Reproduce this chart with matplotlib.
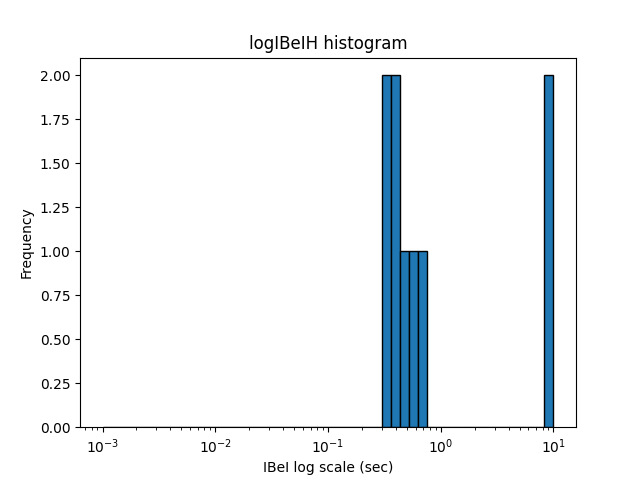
import numpy as np
import matplotlib
matplotlib.use('Agg')
import matplotlib.pyplot as plt

ibei = [0.31, 0.32, 0.38, 0.40, 0.45, 0.55, 0.65, 9.0, 9.8]
bins = np.logspace(-3, 1, 51)

plt.figure(figsize=(6.4, 4.8), dpi=100)
plt.hist(ibei, bins=bins, edgecolor='black')
plt.xscale('log')
plt.title('logIBeIH histogram')
plt.xlabel('IBeI log scale (sec)')
plt.ylabel('Frequency')
plt.gca().yaxis.set_major_formatter(matplotlib.ticker.FormatStrFormatter('%.2f'))
plt.savefig('out.png')
